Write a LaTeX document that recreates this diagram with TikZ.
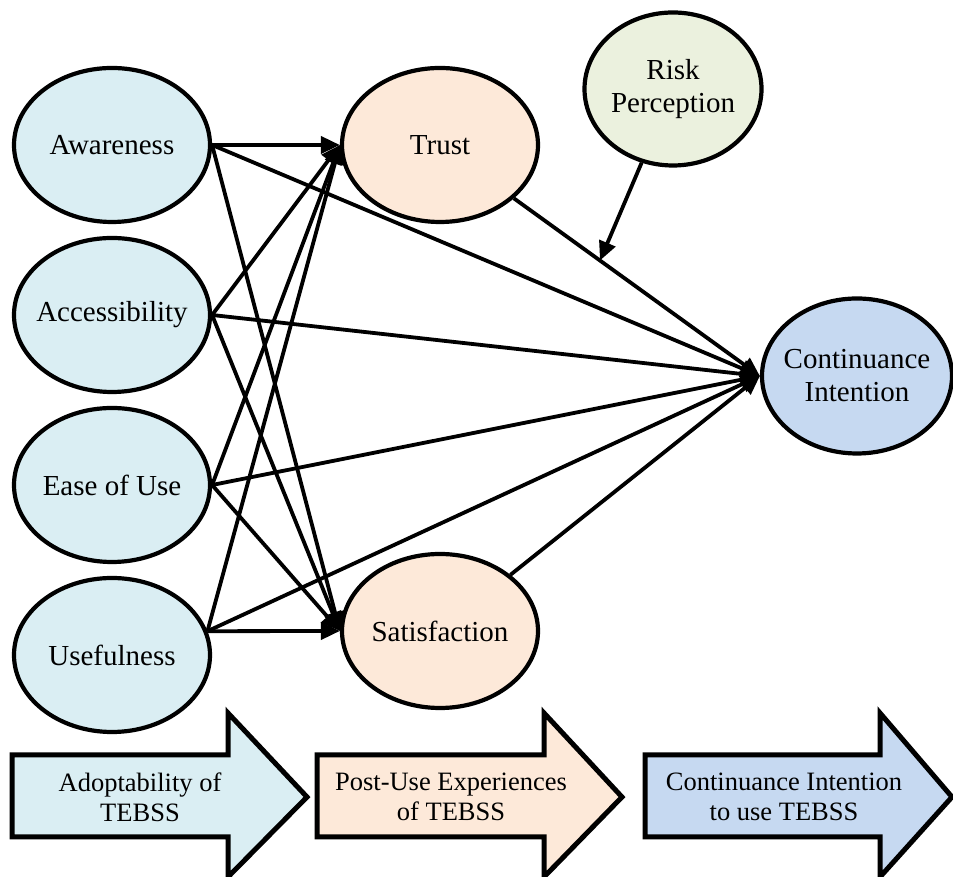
\documentclass[tikz,border=0pt]{standalone}
\usepackage{fontspec}
\setmainfont{Liberation Serif}
\usepackage{tikz}
\usetikzlibrary{shapes.geometric, arrows.meta, positioning, calc}
\definecolor{adoptfill}{HTML}{DAEEF3}
\definecolor{postfill}{HTML}{FDE9D9}
\definecolor{riskfill}{HTML}{EBF1DE}
\definecolor{contfill}{HTML}{C6D9F1}
\tikzstyle{factor} = [draw, ellipse, line width=4.2pt, minimum width=196pt, minimum height=154pt, inner xsep=-14pt, inner ysep=0pt, align=center, font=\fontsize{29}{33}\selectfont]
\tikzstyle{arrow} = [line width=3.8pt, -{Triangle[length=19pt,width=17pt]}]
\tikzstyle{stage} = [draw, line width=5pt, line join=miter]
\tikzstyle{stagetext} = [align=center, font=\fontsize{26.5}{30}\selectfont]

\begin{document}
\begin{tikzpicture}[x=1pt, y=1pt, node distance=170pt]
    \useasboundingbox (0,0) rectangle (953,877);

    % Adoptability factors
    \node (aw) [factor, fill=adoptfill] at (112,732) {Awareness};
    \node (acc) [factor, fill=adoptfill, below of=aw] {Accessibility};
    \node (ease) [factor, fill=adoptfill, below of=acc] {Ease of Use};
    \node (use) [factor, fill=adoptfill, below of=ease] {Usefulness};

    % Post-use experiences
    \node (trust) [factor, fill=postfill, right of=aw, xshift=158pt] {Trust};
    \node (sat) [factor, fill=postfill, right of=use, xshift=158pt, yshift=24pt] {Satisfaction};

    % Moderator and outcome
    \node (risk) [factor, fill=riskfill, minimum width=177pt, minimum height=153pt] at (673,788) {Risk\\Perception};
    \node (ci) [factor, fill=contfill, minimum width=190pt, minimum height=155pt] at (857,501) {Continuance\\Intention};

    % Connections
    \draw [arrow] (aw.east) -- (trust.west);
    \draw [arrow] (aw.east) -- (sat.west);
    \draw [arrow] (aw.east) -- (ci.west);
    \draw [arrow] (acc.east) -- (trust.west);
    \draw [arrow] (acc.east) -- (sat.west);
    \draw [arrow] (acc.east) -- (ci.west);
    \draw [arrow] (ease.east) -- (trust.west);
    \draw [arrow] (ease.east) -- (sat.west);
    \draw [arrow] (ease.east) -- (ci.west);
    \draw [arrow] (use.14) -- (trust.west);
    \draw [arrow] (use.14) -- (sat.west);
    \draw [arrow] (use.14) -- (ci.west);
    \draw [arrow] (trust) -- coordinate[pos=0.35] (mod) (ci.west);
    \draw [arrow] (sat) -- (ci.west);
    \draw [arrow] (risk) -- (mod);

    % Stages
    \draw [stage, fill=adoptfill] (12,122) -- (228,122) -- (228,164) -- (307,80) -- (228,0) -- (228,40) -- (12,40) -- cycle;
    \draw [stage, fill=postfill] (317,122) -- (544,122) -- (544,164) -- (622,80) -- (544,0) -- (544,40) -- (317,40) -- cycle;
    \draw [stage, fill=contfill] (645,122) -- (880,122) -- (880,164) -- (952,80) -- (880,0) -- (880,40) -- (645,40) -- cycle;
    \node (adopt) [stagetext] at (140,80) {Adoptability of\\TEBSS};
    \node (post) [stagetext] at (451,80) {Post-Use Experiences\\of TEBSS};
    \node (cont) [stagetext] at (784,80) {Continuance Intention\\to use TEBSS};
\end{tikzpicture}
\end{document}
